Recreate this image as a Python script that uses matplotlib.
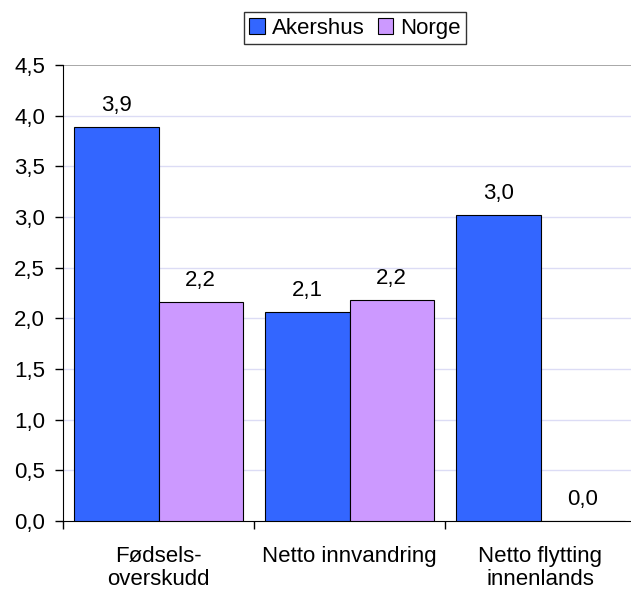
import matplotlib.pyplot as plt
import numpy as np

plt.rcParams['font.family'] = ['Liberation Sans', 'DejaVu Sans']

categories = ["Fødsels-\noverskudd", "Netto innvandring", "Netto flytting\ninnenlands"]
akershus = [3.89, 2.06, 3.02]
norge = [2.16, 2.18, 0.0]
series_names = ["Akershus", "Norge"]
yticks = [0.0, 0.5, 1.0, 1.5, 2.0, 2.5, 3.0, 3.5, 4.0, 4.5]

fs = 16
fig = plt.figure(figsize=(6.31, 5.91), dpi=100)
ax = fig.add_axes([63 / 631, 70 / 591, 573 / 631, 456 / 591])

x = np.arange(len(categories))
w = 0.44
b1 = ax.bar(x - w / 2, akershus, w, color="#3366FF", edgecolor="black", linewidth=0.8,
            label=series_names[0], zorder=3)
b2 = ax.bar(x + w / 2, norge, w, color="#CC99FF", edgecolor="black", linewidth=0.8,
            label=series_names[1], zorder=3)

for bars, vals in ((b1, akershus), (b2, norge)):
    for r, v in zip(bars, vals):
        ax.annotate(("%.1f" % v).replace(".", ","), xy=(r.get_x() + r.get_width() / 2, v),
                    xytext=(0, 8), textcoords="offset points", ha="center", va="bottom",
                    fontsize=fs)

ax.set_ylim(0, 4.5)
ax.set_xlim(-0.5, 2.5)
ax.set_yticks(yticks)
ax.set_yticklabels([("%.1f" % t).replace(".", ",") for t in yticks], fontsize=fs)
for t in yticks[1:-1]:
    ax.axhline(t, color="#dcdcf5", linewidth=1, zorder=1)
ax.axhline(4.5, color="#999999", linewidth=1.2, zorder=1)

# ticks at category boundaries, labels at centres
ax.set_xticks([-0.5, 0.5, 1.5])
ax.set_xticklabels([])
ax.set_xticks(x, minor=True)
ax.set_xticklabels(categories, minor=True, fontsize=fs, linespacing=1.15)
ax.tick_params(axis="x", which="minor", length=0, pad=18)
ax.tick_params(axis="both", which="major", length=6, width=1, direction="out")
ax.tick_params(axis="y", pad=7)

for s in ("top", "right"):
    ax.spines[s].set_visible(False)

fig.legend(handles=[b1, b2], labels=series_names, loc="upper center",
           bbox_to_anchor=(355 / 631, 1 - 12 / 591), ncol=2, fontsize=fs,
           frameon=True, fancybox=False, edgecolor="black", handlelength=0.7,
           handleheight=0.7, handletextpad=0.3, columnspacing=0.6,
           borderpad=0.25, borderaxespad=0)

fig.savefig("out.png", dpi=100)
